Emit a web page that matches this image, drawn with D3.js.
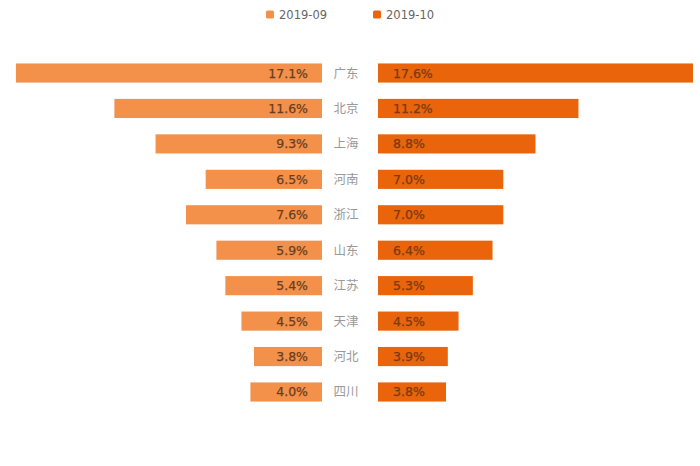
<!DOCTYPE html>
<html><head><meta charset="utf-8">
<script src="https://cdn.jsdelivr.net/npm/d3@7"></script>
<style>body{margin:0;background:#fff}svg{display:block}</style>
</head><body>
<script>
const categories = ["广东","北京","上海","河南","浙江","山东","江苏","天津","河北","四川"];
const series1 = [17.1,11.6,9.3,6.5,7.6,5.9,5.4,4.5,3.8,4.0];
const series2 = [17.6,11.2,8.8,7.0,7.0,6.4,5.3,4.5,3.9,3.8];
const seriesNames = ["2019-09","2019-10"];
const colors = ["#f3914b","#e9640b"];

const W = 700, H = 466;
const svg = d3.select("body").append("svg").attr("width", W).attr("height", H);
const leftEdge = 322, rightEdge = 378, centerX = 346;
const x = d3.scaleLinear().domain([0, 17.6]).range([0, 315]);
const y = d3.scaleBand().domain(categories).range([55.3, 409.7]).paddingInner(0.46).paddingOuter(0.23);
const font = "'DejaVu Sans','Noto Sans CJK SC',sans-serif";

const rows = categories.map((c,i)=>({c, a: series1[i], b: series2[i]}));

svg.selectAll("rect.l").data(rows).join("rect").attr("class","l")
  .attr("x", d => leftEdge - x(d.a)).attr("y", d => y(d.c))
  .attr("width", d => x(d.a)).attr("height", y.bandwidth()).attr("fill", colors[0]);
svg.selectAll("rect.r").data(rows).join("rect").attr("class","r")
  .attr("x", rightEdge).attr("y", d => y(d.c))
  .attr("width", d => x(d.b)).attr("height", y.bandwidth()).attr("fill", colors[1]);

svg.selectAll("text.lv").data(rows).join("text").attr("class","lv")
  .attr("x", leftEdge - 14).attr("y", d => y(d.c) + y.bandwidth()/2)
  .attr("dy","0.36em").attr("text-anchor","end")
  .attr("font-family", font).attr("font-size", 12.5).attr("fill","#6a3d1e")
  .attr("stroke","#6a3d1e").attr("stroke-width",0.25)
  .text(d => d.a.toFixed(1) + "%");
svg.selectAll("text.rv").data(rows).join("text").attr("class","rv")
  .attr("x", rightEdge + 15).attr("y", d => y(d.c) + y.bandwidth()/2)
  .attr("dy","0.36em").attr("text-anchor","start")
  .attr("font-family", font).attr("font-size", 12.5).attr("fill","#7a3a12")
  .attr("stroke","#7a3a12").attr("stroke-width",0.25)
  .text(d => d.b.toFixed(1) + "%");
svg.selectAll("text.cat").data(rows).join("text").attr("class","cat")
  .attr("x", centerX).attr("y", d => y(d.c) + y.bandwidth()/2)
  .attr("dy","0.36em").attr("text-anchor","middle")
  .attr("font-family", "'Noto Sans CJK SC',sans-serif").attr("font-size", 12.5).attr("fill","#999")
  .text(d => d.c);

const legendX = [266, 373];
seriesNames.forEach((n,i)=>{
  svg.append("rect").attr("x", legendX[i]).attr("y", 10.5).attr("width", 8).attr("height", 8)
    .attr("rx", 1.5).attr("fill", colors[i]);
  svg.append("text").attr("x", legendX[i] + 13).attr("y", 14.5).attr("dy","0.36em")
    .attr("font-family", font).attr("font-size", 11.5).attr("fill","#666").text(n);
});
</script>
</body></html>
